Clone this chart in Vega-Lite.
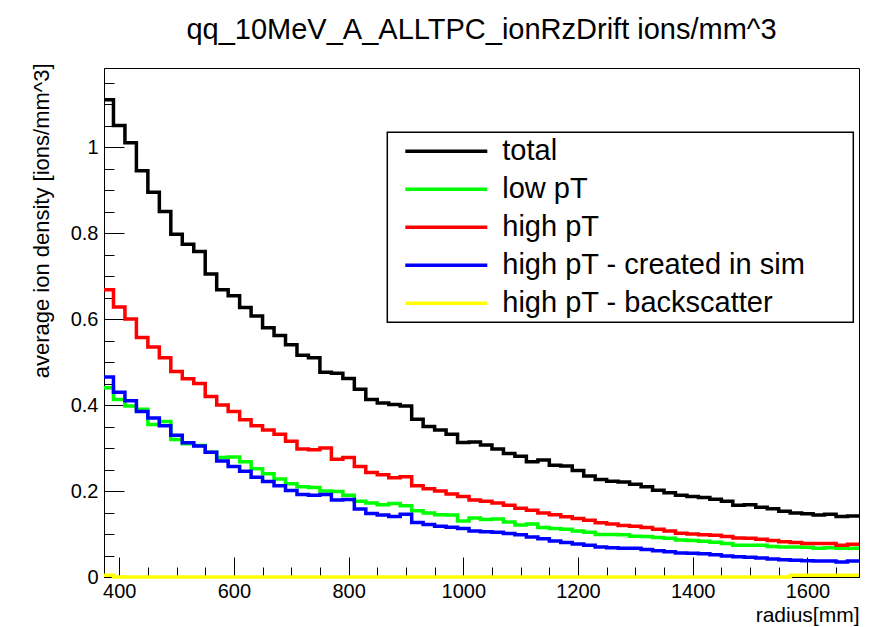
{
  "$schema": "https://vega.github.io/schema/vega-lite/v6.json",
  "width": 755,
  "height": 509,
  "autosize": {"type": "none"},
  "padding": {"left": 104, "top": 68, "right": 16, "bottom": 50},
  "background": "white",
  "title": {"text": "qq_10MeV_A_ALLTPC_ionRzDrift ions/mm^3", "font": "Liberation Sans", "fontSize": 29, "fontWeight": "normal", "color": "black", "anchor": "middle", "baseline": "alphabetic", "offset": 31, "dy": 36},
  "data": {"values": [
    {"r": 370, "total": 1.11, "low": 0.44, "high": 0.668, "sim": 0.465, "back": 0.004},
    {"r": 390, "total": 1.05, "low": 0.413, "high": 0.628, "sim": 0.43, "back": 0},
    {"r": 410, "total": 1.01, "low": 0.398, "high": 0.6, "sim": 0.41, "back": 0},
    {"r": 430, "total": 0.945, "low": 0.39, "high": 0.557, "sim": 0.385, "back": 0},
    {"r": 450, "total": 0.895, "low": 0.355, "high": 0.535, "sim": 0.37, "back": 0},
    {"r": 470, "total": 0.85, "low": 0.362, "high": 0.51, "sim": 0.352, "back": 0},
    {"r": 490, "total": 0.797, "low": 0.32, "high": 0.478, "sim": 0.33, "back": 0},
    {"r": 510, "total": 0.774, "low": 0.31, "high": 0.461, "sim": 0.312, "back": 0},
    {"r": 530, "total": 0.757, "low": 0.306, "high": 0.45, "sim": 0.305, "back": 0},
    {"r": 550, "total": 0.705, "low": 0.29, "high": 0.42, "sim": 0.29, "back": 0},
    {"r": 570, "total": 0.668, "low": 0.278, "high": 0.4, "sim": 0.27, "back": 0},
    {"r": 590, "total": 0.654, "low": 0.279, "high": 0.385, "sim": 0.257, "back": 0},
    {"r": 610, "total": 0.627, "low": 0.268, "high": 0.366, "sim": 0.246, "back": 0},
    {"r": 630, "total": 0.607, "low": 0.252, "high": 0.352, "sim": 0.232, "back": 0},
    {"r": 650, "total": 0.58, "low": 0.24, "high": 0.342, "sim": 0.222, "back": 0},
    {"r": 670, "total": 0.562, "low": 0.228, "high": 0.332, "sim": 0.212, "back": 0},
    {"r": 690, "total": 0.54, "low": 0.217, "high": 0.316, "sim": 0.201, "back": 0},
    {"r": 710, "total": 0.516, "low": 0.21, "high": 0.298, "sim": 0.192, "back": 0},
    {"r": 730, "total": 0.51, "low": 0.208, "high": 0.296, "sim": 0.19, "back": 0},
    {"r": 750, "total": 0.476, "low": 0.2, "high": 0.3, "sim": 0.192, "back": 0},
    {"r": 770, "total": 0.474, "low": 0.199, "high": 0.274, "sim": 0.179, "back": 0},
    {"r": 790, "total": 0.462, "low": 0.19, "high": 0.278, "sim": 0.18, "back": 0},
    {"r": 810, "total": 0.437, "low": 0.176, "high": 0.257, "sim": 0.158, "back": 0},
    {"r": 830, "total": 0.413, "low": 0.172, "high": 0.243, "sim": 0.148, "back": 0},
    {"r": 850, "total": 0.405, "low": 0.168, "high": 0.238, "sim": 0.144, "back": 0},
    {"r": 870, "total": 0.401, "low": 0.171, "high": 0.231, "sim": 0.141, "back": 0},
    {"r": 890, "total": 0.398, "low": 0.166, "high": 0.233, "sim": 0.146, "back": 0},
    {"r": 910, "total": 0.367, "low": 0.154, "high": 0.212, "sim": 0.127, "back": 0},
    {"r": 930, "total": 0.35, "low": 0.149, "high": 0.205, "sim": 0.122, "back": 0},
    {"r": 950, "total": 0.342, "low": 0.145, "high": 0.2, "sim": 0.118, "back": 0},
    {"r": 970, "total": 0.332, "low": 0.144, "high": 0.193, "sim": 0.116, "back": 0},
    {"r": 990, "total": 0.313, "low": 0.13, "high": 0.187, "sim": 0.113, "back": 0},
    {"r": 1010, "total": 0.314, "low": 0.137, "high": 0.179, "sim": 0.107, "back": 0},
    {"r": 1030, "total": 0.307, "low": 0.134, "high": 0.176, "sim": 0.105, "back": 0},
    {"r": 1050, "total": 0.298, "low": 0.135, "high": 0.172, "sim": 0.104, "back": 0},
    {"r": 1070, "total": 0.287, "low": 0.128, "high": 0.167, "sim": 0.101, "back": 0},
    {"r": 1090, "total": 0.281, "low": 0.121, "high": 0.16, "sim": 0.098, "back": 0},
    {"r": 1110, "total": 0.268, "low": 0.123, "high": 0.155, "sim": 0.093, "back": 0},
    {"r": 1130, "total": 0.272, "low": 0.115, "high": 0.149, "sim": 0.089, "back": 0},
    {"r": 1150, "total": 0.26, "low": 0.113, "high": 0.145, "sim": 0.084, "back": 0},
    {"r": 1170, "total": 0.258, "low": 0.111, "high": 0.14, "sim": 0.08, "back": 0},
    {"r": 1190, "total": 0.248, "low": 0.107, "high": 0.136, "sim": 0.077, "back": 0},
    {"r": 1210, "total": 0.235, "low": 0.104, "high": 0.132, "sim": 0.074, "back": 0},
    {"r": 1230, "total": 0.227, "low": 0.099, "high": 0.126, "sim": 0.07, "back": 0},
    {"r": 1250, "total": 0.223, "low": 0.099, "high": 0.123, "sim": 0.068, "back": 0},
    {"r": 1270, "total": 0.221, "low": 0.098, "high": 0.12, "sim": 0.067, "back": 0},
    {"r": 1290, "total": 0.216, "low": 0.095, "high": 0.118, "sim": 0.067, "back": 0},
    {"r": 1310, "total": 0.21, "low": 0.094, "high": 0.115, "sim": 0.064, "back": 0},
    {"r": 1330, "total": 0.202, "low": 0.092, "high": 0.111, "sim": 0.061, "back": 0},
    {"r": 1350, "total": 0.196, "low": 0.09, "high": 0.107, "sim": 0.059, "back": 0},
    {"r": 1370, "total": 0.19, "low": 0.086, "high": 0.102, "sim": 0.056, "back": 0},
    {"r": 1390, "total": 0.187, "low": 0.085, "high": 0.1, "sim": 0.055, "back": 0},
    {"r": 1410, "total": 0.185, "low": 0.083, "high": 0.098, "sim": 0.054, "back": 0},
    {"r": 1430, "total": 0.181, "low": 0.081, "high": 0.097, "sim": 0.052, "back": 0},
    {"r": 1450, "total": 0.176, "low": 0.078, "high": 0.094, "sim": 0.049, "back": 0},
    {"r": 1470, "total": 0.167, "low": 0.074, "high": 0.091, "sim": 0.047, "back": 0},
    {"r": 1490, "total": 0.168, "low": 0.074, "high": 0.09, "sim": 0.046, "back": 0},
    {"r": 1510, "total": 0.162, "low": 0.074, "high": 0.088, "sim": 0.044, "back": 0},
    {"r": 1530, "total": 0.159, "low": 0.071, "high": 0.085, "sim": 0.042, "back": 0},
    {"r": 1550, "total": 0.153, "low": 0.07, "high": 0.082, "sim": 0.04, "back": 0},
    {"r": 1570, "total": 0.149, "low": 0.07, "high": 0.08, "sim": 0.039, "back": 0.004},
    {"r": 1590, "total": 0.147, "low": 0.069, "high": 0.078, "sim": 0.038, "back": 0.004},
    {"r": 1610, "total": 0.144, "low": 0.067, "high": 0.078, "sim": 0.037, "back": 0.004},
    {"r": 1630, "total": 0.146, "low": 0.068, "high": 0.078, "sim": 0.037, "back": 0.004},
    {"r": 1650, "total": 0.141, "low": 0.067, "high": 0.074, "sim": 0.035, "back": 0.004},
    {"r": 1670, "total": 0.142, "low": 0.067, "high": 0.076, "sim": 0.037, "back": 0.004},
    {"r": 1690, "total": 0.142, "low": 0.067, "high": 0.076, "sim": 0.037, "back": 0.004}
  ]},
  "transform": [{"fold": ["total", "low", "high", "sim", "back"], "as": ["series", "v"]}],
  "layer": [
    {
      "transform": [{"filter": "datum.series != 'back'"}],
      "mark": {"type": "line", "interpolate": "step-after", "strokeWidth": 3.5, "strokeJoin": "miter"},
      "encoding": {
        "x": {"field": "r", "type": "quantitative",
          "scale": {"domain": [373.5, 1690], "nice": false, "zero": false, "clamp": true},
          "axis": {"orient": "bottom", "values": [400, 600, 800, 1000, 1200, 1400, 1600], "format": "d", "tickSize": -20, "labelPadding": 24, "labelFontSize": 20,
            "title": "radius[mm]", "titleFontSize": 21, "titleAlign": "right", "titleAnchor": null, "titleX": 755, "titleY": 44, "titleBaseline": "alphabetic"}},
        "y": {"field": "v", "type": "quantitative",
          "scale": {"domain": [0, 1.184], "nice": false, "zero": true},
          "axis": {"orient": "left", "values": [0, 0.2, 0.4, 0.6, 0.8, 1], "format": "~g", "tickSize": -20, "labelPadding": 26, "labelFontSize": 20,
            "title": "average ion density [ions/mm^3]", "titleFontSize": 22, "titleAngle": -90, "titleAlign": "right", "titleAnchor": null, "titleX": -56, "titleY": -5, "titleBaseline": "alphabetic"}},
        "color": {"field": "series", "type": "nominal",
          "scale": {"domain": ["total", "low", "high", "sim", "back"], "range": ["#000000", "#00ff00", "#ff0000", "#0000ff", "#ffff00"]},
          "legend": {"title": "\u00a0", "titleOrient": "right", "titlePadding": 44, "titleFontSize": 2, "orient": "none", "legendX": 283.3, "legendY": 64.3, "direction": "vertical",
            "symbolType": "stroke", "symbolSize": 6724, "symbolStrokeWidth": 3.5, "symbolOffset": 12,
            "labelOffset": 13, "clipHeight": 30, "rowPadding": 8, "padding": 4,
            "labelFontSize": 29, "labelFont": "Liberation Sans", "labelColor": "black", "labelLimit": 800,
            "strokeColor": "black", "fillColor": "white",
            "labelExpr": "datum.label == 'low' ? 'low pT' : datum.label == 'high' ? 'high pT' : datum.label == 'sim' ? 'high pT - created in sim' : datum.label == 'back' ? 'high pT - backscatter' : 'total'"}}
      }
    },
    {
      "transform": [{"filter": "datum.series == 'back'"}],
      "mark": {"type": "line", "interpolate": "step-after", "strokeWidth": 3.5, "strokeJoin": "miter"},
      "encoding": {
        "x": {"field": "r", "type": "quantitative",
          "scale": {"domain": [373.5, 1690], "nice": false, "zero": false, "clamp": true},
          "axis": {"orient": "bottom", "values": [400, 450, 500, 550, 600, 650, 700, 750, 800, 850, 900, 950, 1000, 1050, 1100, 1150, 1200, 1250, 1300, 1350, 1400, 1450, 1500, 1550, 1600, 1650], "tickSize": -10, "labels": false, "domain": false, "title": null}},
        "y": {"field": "v", "type": "quantitative",
          "scale": {"domain": [0, 1.184], "nice": false, "zero": true},
          "axis": {"orient": "left", "values": [0, 0.05, 0.1, 0.15, 0.2, 0.25, 0.3, 0.35, 0.4, 0.45, 0.5, 0.55, 0.6, 0.65, 0.7, 0.75, 0.8, 0.85, 0.9, 0.95, 1, 1.05, 1.1, 1.15], "tickSize": -10, "labels": false, "domain": false, "title": null}},
        "color": {"field": "series", "type": "nominal",
          "scale": {"domain": ["total", "low", "high", "sim", "back"], "range": ["#000000", "#00ff00", "#ff0000", "#0000ff", "#ffff00"]}}
      }
    }
  ],
  "resolve": {"axis": {"x": "independent", "y": "independent"}},
  "config": {
    "font": "Liberation Sans",
    "view": {"stroke": "black", "strokeWidth": 1},
    "axis": {"domainColor": "black", "tickColor": "black", "labelColor": "black", "titleColor": "black", "labelFont": "Liberation Sans", "titleFont": "Liberation Sans", "titleFontWeight": "normal", "grid": false, "domainWidth": 1, "tickWidth": 1, "labelOverlap": false, "labelFlush": false},
    "legend": {"strokeWidth": 1.5}
  }
}
